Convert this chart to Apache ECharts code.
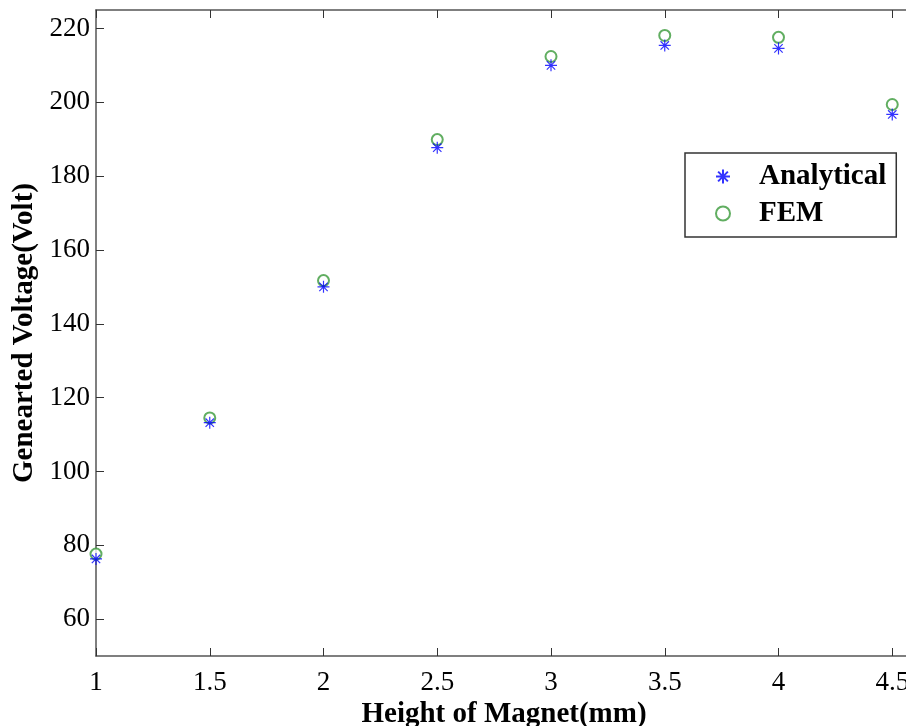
<!DOCTYPE html>
<html>
<head>
<meta charset="utf-8">
<script src="https://cdn.jsdelivr.net/npm/echarts@6/dist/echarts.min.js"></script>
<style>
html,body{margin:0;padding:0;background:#fff;}
#main{width:906px;height:726px;}
</style>
</head>
<body>
<div id="main"></div>
<script>
// 磁体高度 (mm)
var heights = [1, 1.5, 2, 2.5, 3, 3.5, 4, 4.5];
// 解析法结果
var analytical = [76.3, 113.2, 150.0, 187.7, 210.0, 215.4, 214.6, 196.7];
// 有限元结果
var fem = [77.6, 114.5, 151.7, 189.9, 212.4, 218.1, 217.6, 199.4];
// y轴刻度
var yTicks = [60, 80, 100, 120, 140, 160, 180, 200, 220];

var serif = '"Liberation Serif", "DejaVu Serif", serif';
var star = 'path://M0,-10L0,10M-10,0L10,0M-7,-7L7,7M-7,7L7,-7';

function pairs(ys) {
    return heights.map(function (x, i) { return [x, ys[i]]; });
}

var myChart = echarts.init(document.getElementById('main'));
var option = {
    animation: false,
    grid: { left: 96, top: 10, width: 910, height: 646, containLabel: false, outerBoundsMode: 'none' },
    legend: {
        left: 685,
        top: 153,
        orient: 'vertical',
        padding: [9, 10, 9, 30],
        itemGap: 8,
        itemWidth: 14,
        itemHeight: 14,
        borderColor: '#333',
        borderWidth: 1.5,
        borderRadius: 0,
        backgroundColor: '#fff',
        textStyle: { fontFamily: serif, fontWeight: 'bold', fontSize: 29, color: '#000', padding: [0, 0, 0, 24] },
        data: ['Analytical', 'FEM']
    },
    xAxis: [{
        type: 'value',
        min: 1,
        max: 5,
        interval: 0.5,
        name: 'Height of Magnet(mm)',
        nameLocation: 'middle',
        nameGap: 44,
        nameMoveOverlap: false,
        nameTextStyle: { fontFamily: serif, fontWeight: 'bold', fontSize: 29, color: '#000', padding: [0, 94, 0, 0] },
        axisLine: { lineStyle: { color: '#555', width: 1.5 } },
        axisTick: { inside: true, length: 8, lineStyle: { color: '#333' } },
        axisLabel: { fontFamily: serif, fontSize: 27, color: '#000', margin: 13 },
        splitLine: { show: false }
    }, {
        type: 'value',
        position: 'top',
        min: 1,
        max: 5,
        interval: 0.5,
        axisLine: { show: true, lineStyle: { color: '#555', width: 1.5 } },
        axisTick: { inside: true, length: 8, lineStyle: { color: '#333' } },
        axisLabel: { show: false },
        splitLine: { show: false }
    }],
    yAxis: {
        type: 'value',
        min: 50,
        max: 225,
        name: 'Genearted Voltage(Volt)',
        nameLocation: 'middle',
        nameGap: 56,
        nameTextStyle: { fontFamily: serif, fontWeight: 'bold', fontSize: 29, color: '#000' },
        axisLine: { show: true, lineStyle: { color: '#555', width: 1.5 } },
        axisTick: { inside: true, length: 8, customValues: yTicks, lineStyle: { color: '#333' } },
        axisLabel: { fontFamily: serif, fontSize: 27, color: '#000', margin: 6, customValues: yTicks },
        splitLine: { show: false }
    },
    series: [{
        name: 'FEM',
        type: 'scatter',
        symbol: 'emptyCircle',
        symbolSize: 11,
        itemStyle: { color: '#3a9a3a', borderColor: '#3a9a3a', borderWidth: 1.2 },
        data: pairs(fem)
    }, {
        name: 'Analytical',
        type: 'scatter',
        symbol: star,
        symbolSize: 12,
        itemStyle: { color: 'rgba(0,0,0,0)', borderColor: '#0000ff', borderWidth: 1.2 },
        data: pairs(analytical)
    }]
};
myChart.setOption(option, true);
</script>
</body>
</html>
